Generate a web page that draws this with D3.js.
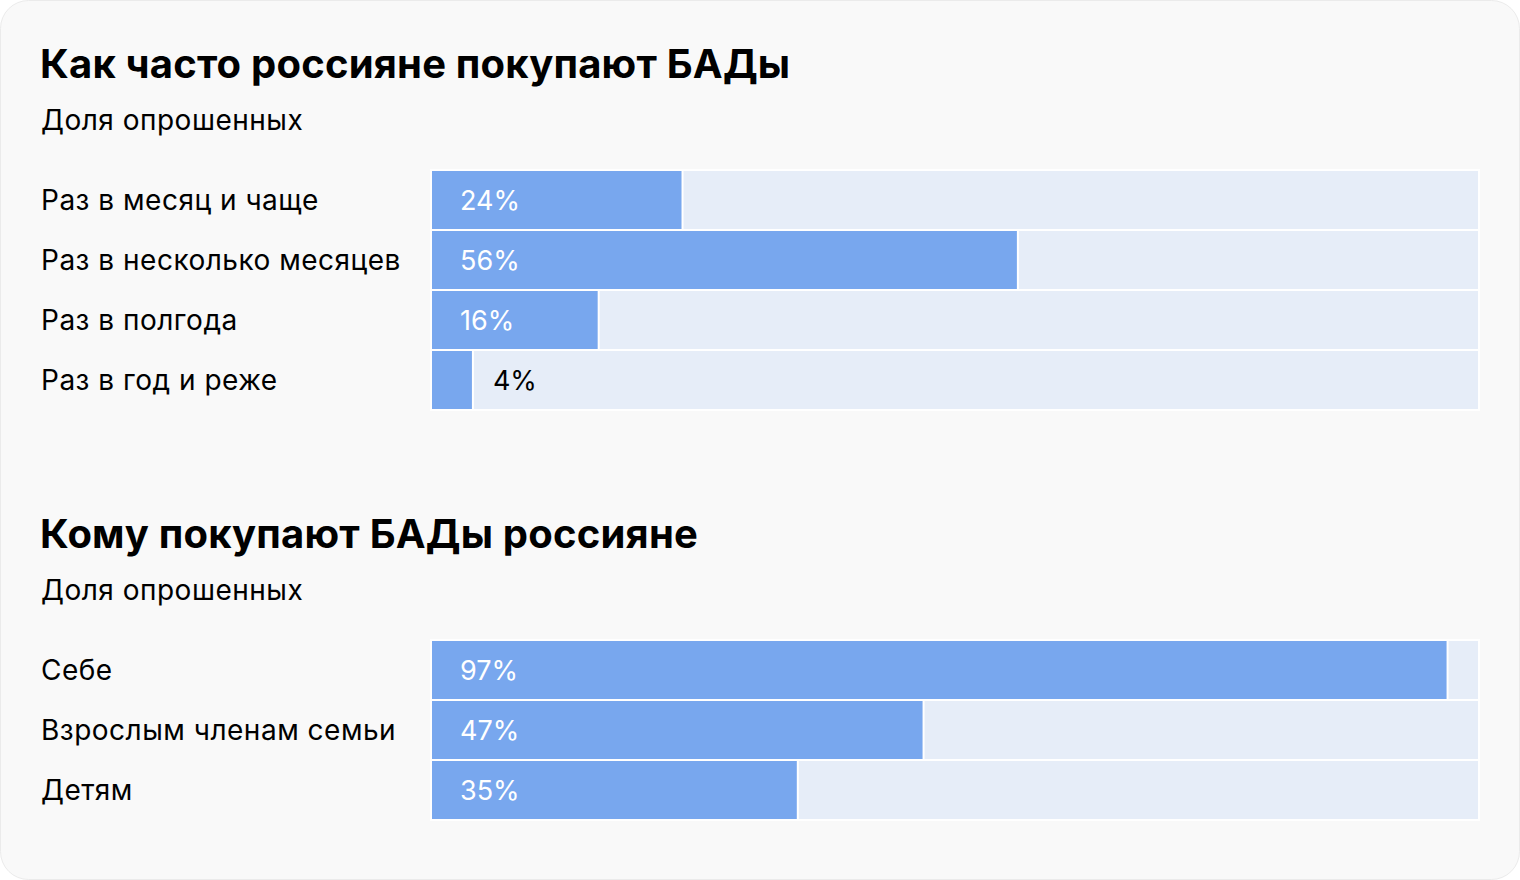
<!DOCTYPE html>
<html>
<head>
<meta charset="utf-8">
<script src="https://cdn.jsdelivr.net/npm/d3@7"></script>
<style>
  body { margin: 0; background: #fff; }
  text { font-family: Inter, "Noto Sans", sans-serif; }
</style>
</head>
<body>
<div id="chart-area"></div>
<script>
const freqCategories = ["Раз в месяц и чаще", "Раз в несколько месяцев", "Раз в полгода", "Раз в год и реже"];
const freqValues = [24, 56, 16, 4];
const whomCategories = ["Себе", "Взрослым членам семьи", "Детям"];
const whomValues = [97, 47, 35];

const width = 1520, height = 880;
const svg = d3.select("#chart-area")
    .append("svg")
    .attr("width", width)
    .attr("height", height);

svg.append("rect")
    .attr("x", 0.5).attr("y", 0.5)
    .attr("width", width - 1).attr("height", height - 1)
    .attr("rx", 28)
    .attr("fill", "#f9f9f9")
    .attr("stroke", "#ebebeb");

const x = d3.scaleLinear().domain([0, 100]).range([431, 1479]);

function block(top, title, categories, values) {
    const g = svg.append("g").attr("transform", "translate(0," + top + ")");

    g.append("text")
        .attr("x", 40).attr("y", 78)
        .attr("font-size", 40).attr("font-weight", 700)
        .attr("letter-spacing", 0.2)
        .attr("fill", "#000")
        .text(title);
    g.append("text")
        .attr("x", 41).attr("y", 130)
        .attr("font-size", 28).attr("letter-spacing", 0.5)
        .attr("fill", "#000")
        .text("Доля опрошенных");

    const y = d3.scaleBand().domain(categories).range([170, 170 + 60 * categories.length]);
    const rows = g.selectAll("g.row")
        .data(categories.map((c, i) => ({ c, v: values[i] })))
        .join("g")
        .attr("class", "row");

    rows.append("rect")
        .attr("x", x(0)).attr("y", d => y(d.c))
        .attr("width", x(100) - x(0)).attr("height", y.bandwidth())
        .attr("fill", "#e6edf8")
        .attr("stroke", "#fff").attr("stroke-width", 2);
    rows.append("rect")
        .attr("x", x(0)).attr("y", d => y(d.c))
        .attr("width", d => x(d.v) - x(0)).attr("height", y.bandwidth())
        .attr("fill", "#78a7ee")
        .attr("stroke", "#fff").attr("stroke-width", 2);

    rows.append("text")
        .attr("x", 41).attr("y", d => y(d.c) + y.bandwidth() / 2 + 10)
        .attr("font-size", 28).attr("letter-spacing", 0.5)
        .attr("fill", "#000")
        .text(d => d.c);

    const inside = d => x(d.v) - x(0) > 100;
    rows.append("text")
        .attr("x", d => inside(d) ? x(0) + 29 : x(d.v) + 20)
        .attr("y", d => y(d.c) + y.bandwidth() / 2 + 10)
        .attr("font-size", 27)
        .attr("fill", d => inside(d) ? "#fff" : "#000")
        .text(d => d.v + "%");
}

block(0, "Как часто россияне покупают БАДы", freqCategories, freqValues);
block(470, "Кому покупают БАДы россияне", whomCategories, whomValues);
</script>
</body>
</html>
